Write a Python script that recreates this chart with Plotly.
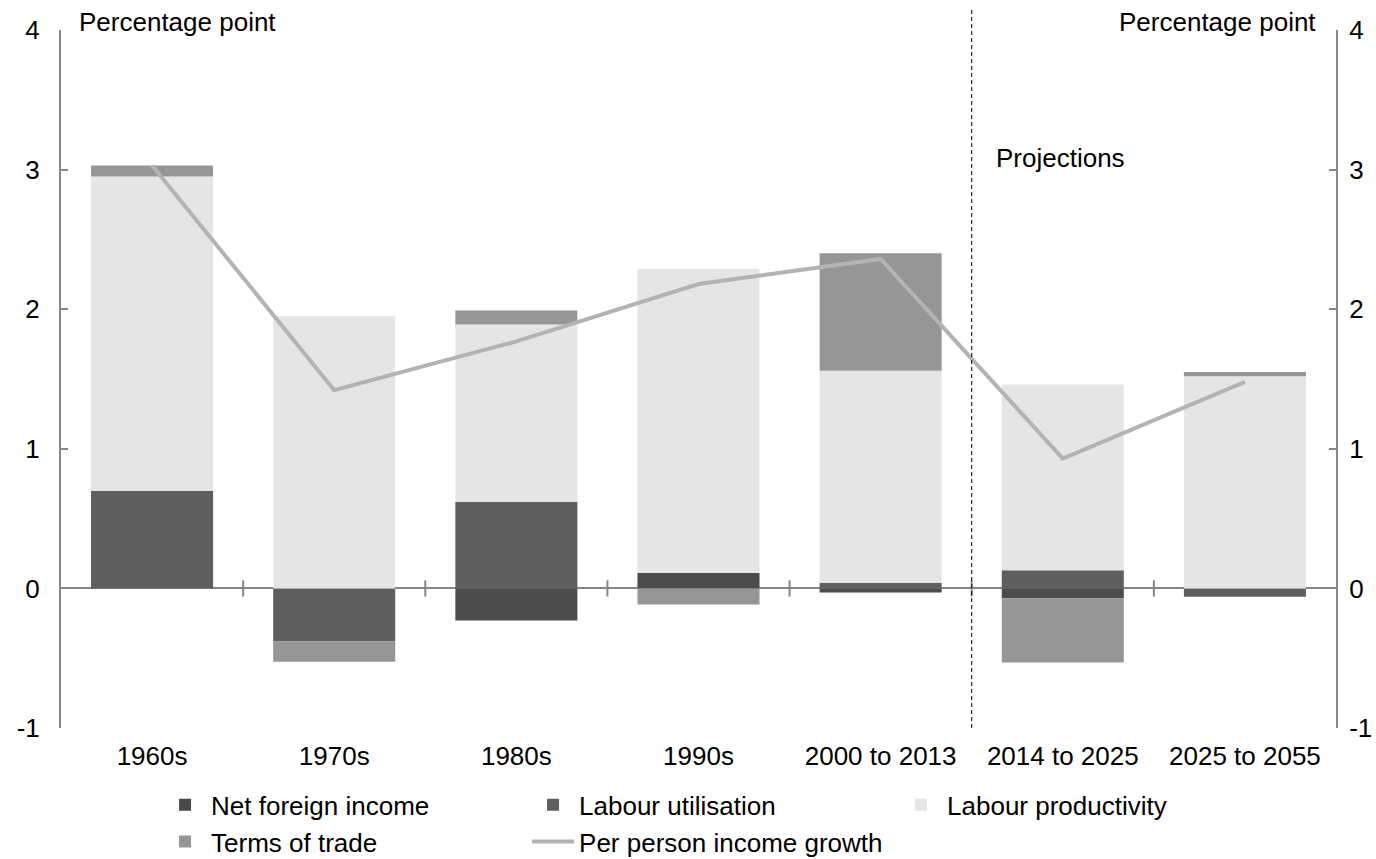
import plotly.graph_objects as go

categories = ["1960s", "1970s", "1980s", "1990s", "2000 to 2013", "2014 to 2025", "2025 to 2055"]
net_foreign_income = [0.0, 0.0, -0.23, 0.11, -0.03, -0.07, 0.0]
labour_utilisation = [0.70, -0.38, 0.62, 0.0, 0.04, 0.13, -0.06]
labour_productivity = [2.25, 1.95, 1.27, 2.18, 1.52, 1.33, 1.52]
terms_of_trade = [0.08, -0.145, 0.10, -0.115, 0.84, -0.46, 0.03]
per_person_income_growth = [3.03, 1.42, 1.77, 2.18, 2.36, 0.93, 1.48]
y_ticks = [-1, 0, 1, 2, 3, 4]
y_tick_text = ["-1", "0", "1", "2", "3", "4"]

FONT = "Liberation Sans, Arial, sans-serif"
AX = "#868686"
FS = 26

fig = go.Figure()
fig.add_bar(x=categories, y=net_foreign_income, name="Net foreign income",
            marker=dict(color="#4b4b4b", line=dict(width=0)))
fig.add_bar(x=categories, y=labour_utilisation, name="Labour utilisation",
            marker=dict(color="#5f5f5f", line=dict(width=0)))
fig.add_bar(x=categories, y=labour_productivity, name="Labour productivity",
            marker=dict(color="#e5e5e5", line=dict(width=0)))
fig.add_bar(x=categories, y=terms_of_trade, name="Terms of trade",
            marker=dict(color="#969696", line=dict(width=0)))
fig.add_scatter(x=categories, y=per_person_income_growth, name="Per person income growth",
                mode="lines", line=dict(color="#b3b3b3", width=4))
# invisible trace so the right-hand axis is drawn
fig.add_scatter(x=categories, y=per_person_income_growth, yaxis="y2", mode="lines",
                line=dict(width=0), opacity=0, showlegend=False, hoverinfo="skip")

shapes = []
# category boundary ticks across the zero line
for i in range(len(categories) - 1):
    shapes.append(dict(type="line", xref="x", yref="y", x0=i + 0.5, x1=i + 0.5,
                       y0=-0.058, y1=0.058, line=dict(color=AX, width=2)))
# projections divider
shapes.append(dict(type="line", xref="x", yref="y domain", x0=4.5, x1=4.5, y0=0, y1=1.033,
                   line=dict(color="#000000", width=1, dash="4px,3px")))

# plot area spans pixels 30..728 vertically; paper spans 30..849
Y_DOMAIN = [0.1477, 1.0]

fig.update_layout(
    width=1376, height=859,
    margin=dict(l=61, r=40, t=30, b=10, autoexpand=False),
    paper_bgcolor="white", plot_bgcolor="white",
    font=dict(family=FONT, size=FS, color="#000000"),
    barmode="relative", bargap=0.33,
    showlegend=True,
    legend=dict(orientation="h", x=0.0769, xanchor="left", y=0.0826, yanchor="top",
                entrywidth=311, entrywidthmode="pixels", itemwidth=42,
                font=dict(size=FS, family=FONT), traceorder="normal",
                bgcolor="rgba(0,0,0,0)"),
    xaxis=dict(showline=False, ticks="", showgrid=False, zeroline=False,
               tickfont=dict(size=FS), ticklabelstandoff=10, automargin=False,
               range=[-0.5, 6.5]),
    yaxis=dict(domain=Y_DOMAIN, range=[-1, 4], tickvals=y_ticks, ticktext=y_tick_text,
               showgrid=False, automargin=False,
               zeroline=True, zerolinecolor=AX, zerolinewidth=2,
               showline=True, linecolor=AX, linewidth=2,
               ticks="inside", ticklen=7, tickcolor=AX, tickwidth=2,
               tickfont=dict(size=FS), ticklabelstandoff=14),
    yaxis2=dict(domain=Y_DOMAIN, range=[-1, 4], tickvals=y_ticks, ticktext=y_tick_text,
                overlaying="y", side="right", automargin=False,
                showgrid=False, zeroline=False,
                showline=True, linecolor=AX, linewidth=2,
                ticks="inside", ticklen=7, tickcolor=AX, tickwidth=2,
                tickfont=dict(size=FS), ticklabelstandoff=6),
    shapes=shapes,
    annotations=[
        dict(text="Percentage point", xref="paper", yref="paper", x=0.0125, y=1.0098,
             xanchor="left", yanchor="middle", showarrow=False, font=dict(size=FS)),
        dict(text="Percentage point", xref="paper", yref="paper", x=0.986, y=1.0098,
             xanchor="right", yanchor="middle", showarrow=False, font=dict(size=FS)),
        dict(text="Projections", xref="x", yref="y", x=4.62, y=3.08,
             xanchor="left", yanchor="middle", showarrow=False, font=dict(size=FS)),
    ],
)

fig.write_html("out.html")
